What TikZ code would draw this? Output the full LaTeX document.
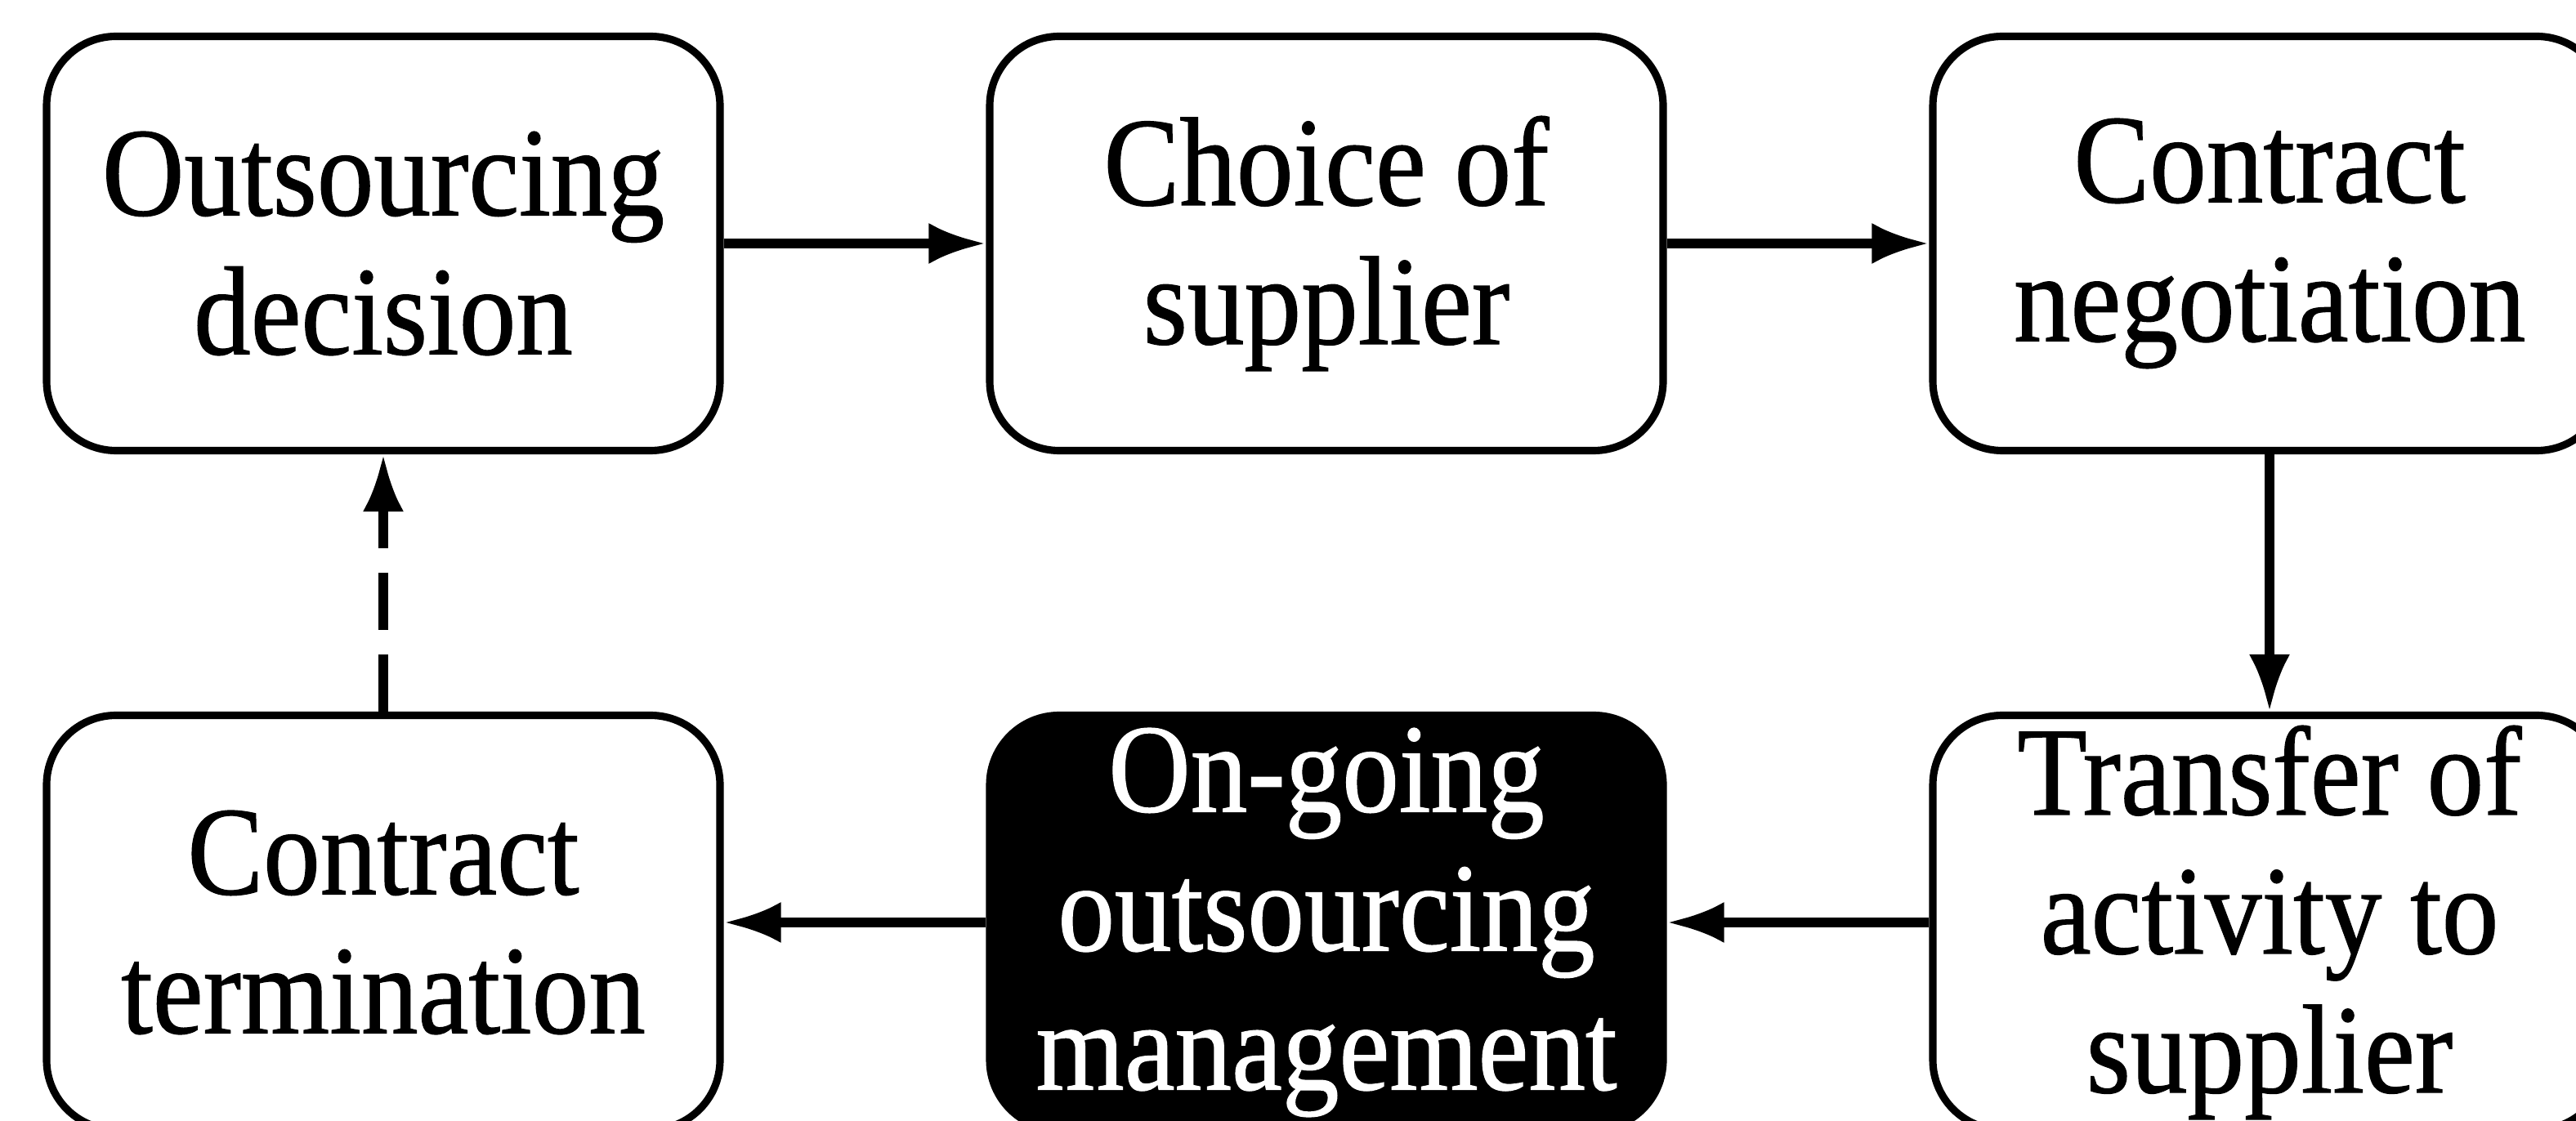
\documentclass[tikz,border=0pt]{standalone}
\usepackage{fontspec}
\setmainfont{Liberation Serif}[FakeStretch=0.9, UprightFeatures={FakeBold=0.8}]
\usetikzlibrary{arrows.meta}
\tikzstyle{stage} = [rectangle, rounded corners=0.85cm, minimum width=8.24cm, minimum height=5.07cm, align=center, draw=black, line width=2.6pt, fill=white, font=\fontsize{44}{48.4}\selectfont]
\tikzstyle{stagedark} = [stage, fill=black, text=white]
\tikzstyle{flow} = [line width=3.2pt, -{Latex[length=7mm, width=5mm]}]

\begin{document}
\begin{tikzpicture}[node distance=11.54cm]
    \useasboundingbox (0,0) rectangle (31.52,-13.72);

    % Nodes
    \node (decision) [stage] at (4.69,-2.98) {Outsourcing\\decision};
    \node (choice) [stage, right of=decision] {Choice of\\supplier};
    \node (negotiation) [stage, right of=choice] {Contract\\negotiation};
    \node (termination) [stage, below of=decision, node distance=8.31cm] {Contract\\termination};
    \node (ongoing) [stagedark, right of=termination] {On-going\\outsourcing\\management};
    \node (transfer) [stage, right of=ongoing] {Transfer of\\activity to\\supplier};

    % Arrows
    \draw [flow] (decision) -- (choice);
    \draw [flow] (choice) -- (negotiation);
    \draw [flow] (negotiation) -- (transfer);
    \draw [flow] (transfer) -- (ongoing);
    \draw [flow] (ongoing) -- (termination);
    \draw [flow, dash pattern=on 0.7cm off 0.3cm] (termination) -- (decision);
\end{tikzpicture}
\end{document}
